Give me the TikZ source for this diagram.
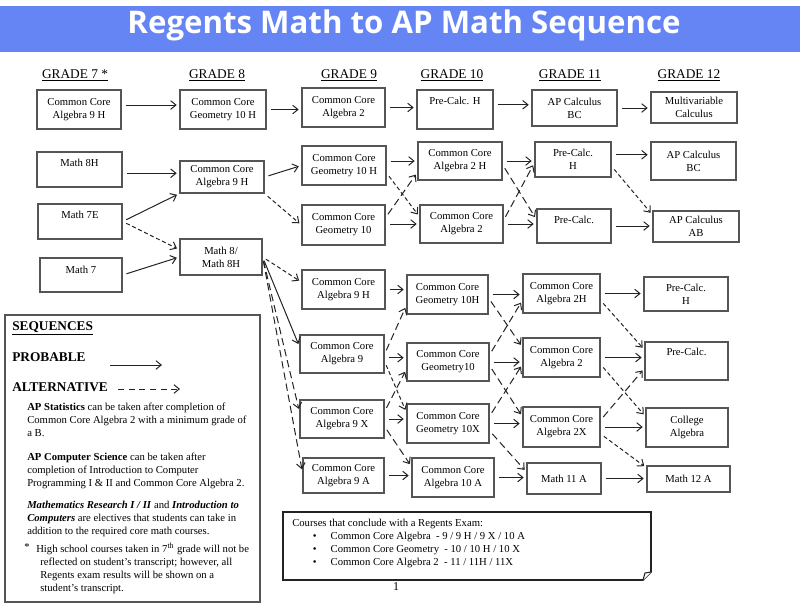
\documentclass[tikz,border=0pt]{standalone}
\usepackage{fontspec}
\setmainfont{Liberation Serif}
\newfontfamily\bannerfont{Open Sans}
\usetikzlibrary{arrows.meta}
\definecolor{bannerblue}{RGB}{101,133,244}
\definecolor{boxgray}{RGB}{85,85,85}
\definecolor{inkgray}{RGB}{35,35,35}
\tikzset{
  course/.style={draw=boxgray, line width=0.9pt, align=center, inner sep=1pt, font=\fontsize{8}{9.6}\selectfont},
  boxsize/.style 2 args={minimum width=#1*0.75pt, minimum height=#2*0.75pt},
  toptext/.style={text depth=#1},
  grade/.style={font=\fontsize{10}{12}\selectfont},
  legend/.style={anchor=west, inner sep=0pt, font=\bfseries\fontsize{10}{12}\selectfont},
  note/.style={anchor=north west, inner sep=0pt, align=left, font=\fontsize{8}{9.75}\selectfont},
  probable/.style={draw=inkgray, line width=0.75pt, -{Straight Barb[length=4pt,width=6.5pt]}, shorten <=3pt, shorten >=2pt},
  alternative/.style={probable, dash pattern=on 3pt off 2pt},
  altlong/.style={probable, dash pattern=on 5.5pt off 3pt},
}
\begin{document}
\begin{tikzpicture}[x=0.75pt, y=-0.75pt]
\useasboundingbox (0,0) rectangle (800,612);
\fill[bannerblue] (0,6) rectangle (800,52);
\node[anchor=base, text=white, font=\bannerfont\bfseries\fontsize{23.4}{28}\selectfont] (title) at (404,33) {Regents Math to AP Math Sequence};

\node[grade] (h7) at (75,75) {\underline{GRADE 7 *}};
\node[grade] (h8) at (217,75) {\underline{GRADE 8}};
\node[grade] (h9) at (349,75) {\underline{GRADE 9}};
\node[grade] (h10) at (452,75) {\underline{GRADE 10}};
\node[grade] (h11) at (570,75) {\underline{GRADE 11}};
\node[grade] (h12) at (689,75) {\underline{GRADE 12}};

\node[course, boxsize={84}{39}] (a7) at (79,109.5) {Common Core\\Algebra 9 H};
\node[course, boxsize={86}{39}] (b8) at (223,109.5) {Common Core\\Geometry 10 H};
\node[course, boxsize={83}{39}] (c9) at (343.5,107.5) {Common Core\\Algebra 2};
\node[course, boxsize={76}{39}, toptext=12.75pt] (d10) at (455,109.5) {Pre-Calc. H};
\node[course, boxsize={85}{36}] (e11) at (574.5,108) {AP Calculus\\BC};
\node[course, boxsize={86}{31}] (f12) at (694,107.5) {Multivariable\\Calculus};

\node[course, boxsize={85}{35}, toptext=9.75pt] (m8h) at (79.5,169.5) {Math 8H};
\node[course, boxsize={84}{35}, toptext=9.75pt] (m7e) at (80,221.5) {Math 7E};
\node[course, boxsize={82}{34}, toptext=7.5pt] (m7) at (81,275) {Math 7};
\node[course, boxsize={84}{32}] (g8a) at (222,177) {Common Core\\Algebra 9 H};
\node[course, boxsize={82}{36}] (g8m) at (221,257) {Math 8/\\Math 8H};
\node[course, boxsize={84}{39}] (g9a) at (344,165.5) {Common Core\\Geometry 10 H};
\node[course, boxsize={83}{40}] (g9b) at (343.5,225) {Common Core\\Geometry 10};
\node[course, boxsize={84}{38}] (g10a) at (460,161) {Common Core\\Algebra 2 H};
\node[course, boxsize={83}{38}] (g10b) at (461.5,224) {Common Core\\Algebra 2};
\node[course, boxsize={76}{35}] (g11a) at (573,159.5) {Pre-Calc.\\H};
\node[course, boxsize={74}{34}, toptext=9pt] (g11b) at (574,226) {Pre-Calc.};
\node[course, boxsize={85}{38}] (g12a) at (693.5,161) {AP Calculus\\BC};
\node[course, boxsize={86}{31}] (g12b) at (696,226.5) {AP Calculus\\AB};

\node[course, boxsize={83}{39}] (l9a) at (343.5,289.5) {Common Core\\Algebra 9 H};
\node[course, boxsize={84}{38}] (l9b) at (342,354) {Common Core\\Algebra 9};
\node[course, boxsize={84}{38}] (l9c) at (342,419) {Common Core\\Algebra 9 X};
\node[course, boxsize={81}{35}] (l9d) at (343.5,475.5) {Common Core\\Algebra 9 A};
\node[course, boxsize={81}{39}] (l10a) at (447.5,294.5) {Common Core\\Geometry 10H};
\node[course, boxsize={82}{38}] (l10b) at (448,362) {Common Core\\Geometry10};
\node[course, boxsize={82}{39}] (l10c) at (448,423.5) {Common Core\\Geometry 10X};
\node[course, boxsize={82}{39}] (l10d) at (453,477.5) {Common Core\\Algebra 10 A};
\node[course, boxsize={77}{39}] (l11a) at (561.5,293.5) {Common Core\\Algebra 2H};
\node[course, boxsize={77}{39}] (l11b) at (561.5,357.5) {Common Core\\Algebra 2};
\node[course, boxsize={77}{40}] (l11c) at (561.5,427) {Common Core\\Algebra 2X};
\node[course, boxsize={74}{31}] (l11d) at (564,478.5) {Math 11 A};
\node[course, boxsize={84}{34}] (l12a) at (686,294) {Pre-Calc.\\H};
\node[course, boxsize={83}{38}, toptext=13.5pt] (l12b) at (686.5,361) {Pre-Calc.};
\node[course, boxsize={82}{39}] (l12c) at (687,427.5) {College\\Algebra};
\node[course, boxsize={83}{26}] (l12d) at (688.5,479) {Math 12 A};

\draw[probable] (a7.6) -- (a7.6 -| b8.west);
\draw[probable] (b8.east) -- (b8.east -| c9.west);
\draw[probable] (c9.east) -- (c9.east -| d10.west);
\draw[probable] (d10.7) -- (d10.7 -| e11.west);
\draw[probable] (e11.east) -- (e11.east -| f12.west);

\draw[probable] (m8h.-5) -- (m8h.-5 -| g8a.west);
\draw[probable] (m7e.east) -- (g8a.south west);
\draw[alternative] (m7e.east) -- (g8m.170);
\draw[probable] (m7.east) -- (g8m.west);
\draw[probable] (g8a.east) -- (g9a.west);
\draw[alternative] (g8a.south east) -- (g9b.west);
\draw[probable] (g9a.east |- g10a.west) -- (g10a.west);
\draw[alternative] (g9a.-10) -- (g10b.170);
\draw[probable] (g9b.east |- g10b.west) -- (g10b.west);
\draw[altlong] (g9b.10) -- (g10a.195);
\draw[probable] (g10a.east) -- (g10a.east -| g11a.west);
\draw[altlong] (g10a.-5) -- (g11b.170);
\draw[altlong] (g10b.5) -- (g11a.185);
\draw[probable] (g10b.east) -- (g10b.east -| g11b.west);
\draw[probable] (g11a.7) -- (g11a.7 -| g12a.west);
\draw[alternative] (g11a.-10) -- (g12b.165);
\draw[probable] (g11b.east) -- (g11b.east -| g12b.west);

\draw[alternative] (g8m.east) -- (l9a.170);
\draw[probable] (g8m.east) -- (l9b.170);
\draw[altlong] (g8m.east) -- (l9c.170);
\draw[altlong] (g8m.east) -- (l9d.175);

\draw[probable] (l9a.east) -- (l9a.east -| l10a.west);
\draw[altlong] (l9b.east) -- (l10a.195);
\draw[probable] (l9b.-5) -- (l9b.-5 -| l10b.west);
\draw[alternative] (l9b.-10) -- (l10c.165);
\draw[altlong] (l9c.10) -- (l10b.190);
\draw[probable] (l9c.east) -- (l9c.east -| l10c.west);
\draw[altlong] (l9c.-10) -- (l10d.165);
\draw[probable] (l9d.east) -- (l9d.east -| l10d.west);
\draw[probable] (l10a.east) -- (l10a.east -| l11a.west);
\draw[altlong] (l10a.-5) -- (l11b.165);
\draw[altlong] (l10b.10) -- (l11a.190);
\draw[probable] (l10b.east) -- (l10b.east -| l11b.west);
\draw[altlong] (l10b.-5) -- (l11c.165);
\draw[altlong] (l10c.10) -- (l11b.190);
\draw[probable] (l10c.east) -- (l10c.east -| l11c.west);
\draw[altlong] (l10c.-10) -- (l11d.170);
\draw[probable] (l10d.east) -- (l10d.east -| l11d.west);
\draw[probable] (l11a.east) -- (l11a.east -| l12a.west);
\draw[alternative] (l11a.-10) -- (l12b.165);
\draw[probable] (l11b.east) -- (l11b.east -| l12b.west);
\draw[alternative] (l11b.-10) -- (l12c.165);
\draw[altlong] (l11c.10) -- (l12b.190);
\draw[probable] (l11c.east) -- (l11c.east -| l12c.west);
\draw[alternative] (l11c.-10) -- (l12d.165);
\draw[probable] (l11d.east) -- (l11d.east -| l12d.west);

\draw[draw=boxgray, line width=0.9pt] (5,315) rectangle (260,602);
\node[legend] (seq) at (12,328) {\underline{SEQUENCES}};
\node[legend] (prob) at (12,357) {PROBABLE};
\node[legend] (alt) at (12,387) {ALTERNATIVE};
\coordinate (probA) at (110,365);
\coordinate (probB) at (162,365);
\coordinate (altA) at (118,389);
\coordinate (altB) at (180,389);
\draw[probable, shorten <=0pt, shorten >=0pt] (probA) -- (probB);
\draw[probable, dash pattern=on 4.5pt off 3.5pt, shorten <=0pt, shorten >=0pt] (altA) -- (altB);
\node[note] (stats) at (27,403) {\textbf{AP Statistics} can be taken after completion of\\Common Core Algebra 2 with a minimum grade of\\a B.};
\node[note] (compsci) at (27,453) {\textbf{AP Computer Science} can be taken after\\completion of Introduction to Computer\\Programming I \& II and Common Core Algebra 2.};
\node[note] (electives) at (27,501) {\textbf{\textit{Mathematics Research I / II}} and \textbf{\textit{Introduction to}}\\\textbf{\textit{Computers}} are electives that students can take in\\addition to the required core math courses.};
\node[note] (star) at (24,543) {*};
\node[note] (footnote) at (36,543) {High school courses taken in 7\textsuperscript{th} grade will not be\\\hspace*{3pt}reflected on student's transcript; however, all\\\hspace*{3pt}Regents exam results will be shown on a\\\hspace*{3pt}student's transcript.};

\draw[draw=inkgray, line width=1.3pt] (283,512) -- (651,512) -- (651,572) -- (643,580) -- (283,580) -- cycle;
\draw[draw=inkgray, line width=0.8pt, fill=white] (651,572) -- (645,573) -- (643,580);
\node[note] (regents) at (292,519) {Courses that conclude with a Regents Exam:\\
\hspace*{15.5pt}\textbullet\hspace{10.5pt}Common Core Algebra ~- 9 / 9 H / 9 X / 10 A\\
\hspace*{15.5pt}\textbullet\hspace{10.5pt}Common Core Geometry ~- 10 / 10 H / 10 X\\
\hspace*{15.5pt}\textbullet\hspace{10.5pt}Common Core Algebra 2 ~- 11 / 11H / 11X};
\node[font=\fontsize{9}{11}\selectfont] (page) at (396,587) {1};
\end{tikzpicture}
\end{document}
